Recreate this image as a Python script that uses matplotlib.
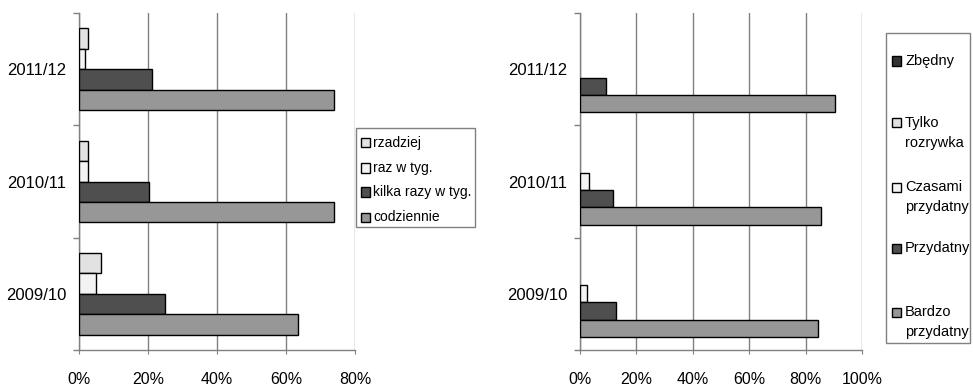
import matplotlib
matplotlib.use('Agg')
import matplotlib.pyplot as plt
from matplotlib.patches import Rectangle
from matplotlib.ticker import FuncFormatter
import numpy as np

plt.rcParams['font.family'] = ['Liberation Sans', 'DejaVu Sans']

years = ['2009/10', '2010/11', '2011/12']

# Left chart: frequency of use (%), top-to-bottom order within a group
freq_labels = ['rzadziej', 'raz w tyg.', 'kilka razy w tyg.', 'codziennie']
rzadziej = [6.3, 2.7, 2.7]
raz_w_tyg = [5.0, 2.7, 1.8]
kilka_razy = [25.0, 20.4, 21.2]
codziennie = [63.5, 74.0, 74.0]
freq_colors = ['#e2e2e2', '#f3f3f3', '#4f4f4f', '#979797']

# Right chart: usefulness (%), top-to-bottom order within a group
use_labels = ['Zbędny', 'Tylko\nrozrywka', 'Czasami\nprzydatny', 'Przydatny', 'Bardzo\nprzydatny']
zbedny = [0.0, 0.0, 0.0]
tylko_rozrywka = [0.0, 0.0, 0.0]
czasami = [2.4, 3.3, 0.0]
przydatny = [12.6, 11.7, 9.2]
bardzo = [84.5, 85.6, 90.5]
use_colors = ['#333333', '#e2e2e2', '#f3f3f3', '#4f4f4f', '#979797']

W, H = 973, 387
fig = plt.figure(figsize=(W / 100, H / 100), dpi=100)

GRAY = '#808080'


def px_box(x0, y0, x1, y1):
    return [x0 / W, 1 - y1 / H, (x1 - x0) / W, (y1 - y0) / H]


def draw_chart(ax, series, colors, xmax):
    n = len(series)
    h = 1.0 / (n + 1.5)
    y = np.arange(len(years))
    for i, (vals, col) in enumerate(zip(series, colors)):
        off = (i - (n - 1) / 2) * h
        lw = [1.0 if v > 0 else 0.0 for v in vals]
        ax.barh(y - off, vals, height=h, color=col, edgecolor='black',
                linewidth=lw, zorder=3)
    ax.set_xlim(0, xmax)
    ax.set_ylim(-0.5, len(years) - 0.5)
    ax.set_xticks(np.arange(0, xmax + 1, 20))
    ax.xaxis.set_major_formatter(FuncFormatter(lambda v, p: f'{int(v)}%'))
    ax.set_yticks(np.arange(len(years) + 1) - 0.5)
    ax.set_yticklabels([])
    ax.set_yticks(y, minor=True)
    ax.set_yticklabels(years, minor=True, fontsize=12)
    ax.tick_params(axis='y', which='major', length=4, color=GRAY, width=1)
    ax.tick_params(axis='y', which='minor', length=0, pad=9)
    ax.tick_params(axis='x', length=3, color=GRAY, pad=13, labelsize=11.5)
    ax.xaxis.grid(True, color=GRAY, linewidth=1, zorder=0)
    ax.set_axisbelow(True)
    for s in ['top', 'right']:
        ax.spines[s].set_visible(False)
    for s in ['left', 'bottom']:
        ax.spines[s].set_color(GRAY)
        ax.spines[s].set_linewidth(1)


def draw_legend(box, labels, colors, marker_ys, mx, tx, fs, line_h):
    x0, y0, x1, y1 = box
    fig.patches.append(Rectangle((x0 / W, 1 - y1 / H), (x1 - x0) / W, (y1 - y0) / H,
                                 transform=fig.transFigure, facecolor='white',
                                 edgecolor=GRAY, linewidth=1, zorder=5))
    ms = 9
    for lab, col, my in zip(labels, colors, marker_ys):
        fig.patches.append(Rectangle((mx / W, 1 - (my + ms / 2) / H), ms / W, ms / H,
                                     transform=fig.transFigure, facecolor=col,
                                     edgecolor='black', linewidth=1, zorder=6))
        for k, line in enumerate(lab.split('\n')):
            fig.text(tx / W, 1 - (my + k * line_h) / H, line, fontsize=fs,
                     va='center', ha='left', zorder=7)


ax1 = fig.add_axes(px_box(79, 13, 355, 350))
draw_chart(ax1, [rzadziej, raz_w_tyg, kilka_razy, codziennie], freq_colors, 80)

ax2 = fig.add_axes(px_box(580, 13, 862, 350))
draw_chart(ax2, [zbedny, tylko_rozrywka, czasami, przydatny, bardzo], use_colors, 100)

draw_legend((356, 128, 475, 227), freq_labels, freq_colors,
            [143, 168, 192, 217], 361, 373, 10, 20)
draw_legend((886, 33, 970, 343), use_labels, use_colors,
            [61, 123, 187, 248, 312], 892, 905, 10.5, 20)

fig.savefig('out.png', dpi=100)
